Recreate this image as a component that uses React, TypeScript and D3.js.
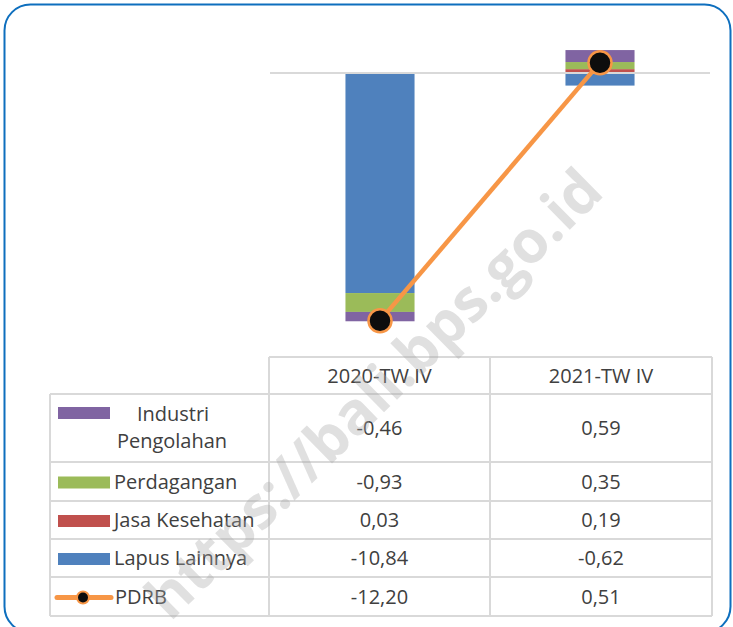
import React from "react";
import * as d3 from "d3";

const categories = ["2020-TW IV", "2021-TW IV"];
const seriesNames = ["Industri Pengolahan", "Perdagangan", "Jasa Kesehatan", "Lapus Lainnya"];
const industri = [-0.46, 0.59];
const perdagangan = [-0.93, 0.35];
const jasaKesehatan = [0.03, 0.19];
const lapusLainnya = [-10.84, -0.62];
const pdrb = [-12.2, 0.51];
const seriesColors = ["#8064A2", "#9BBB59", "#C0504D", "#4F81BD"];
const lineColor = "#F79646";

const W = 733;
const H = 627;
const FONT = "'Open Sans', 'Noto Sans', sans-serif";
const TXT = "#404040";
const GRID = "#d9d9d9";

export default function App() {
  const valuesBySeries = [industri, perdagangan, jasaKesehatan, lapusLainnya];
  const rows = categories.map((c, i) => {
    const r: any = { cat: c };
    seriesNames.forEach((s, j) => (r[s] = valuesBySeries[j][i]));
    return r;
  });
  // stacking order outward from zero
  const stackKeys = ["Lapus Lainnya", "Jasa Kesehatan", "Perdagangan", "Industri Pengolahan"];
  const stacked = d3.stack<any>().keys(stackKeys).offset(d3.stackOffsetDiverging)(rows);

  const x = d3.scaleBand<string>().domain(categories).range([270, 710]).padding(0);
  const barW = x.bandwidth() * 0.314;
  const y = d3.scaleLinear().domain([2, -14]).range([32.4, 357.2]);
  const cx = (c: string) => (x(c) as number) + x.bandwidth() / 2;

  const line = d3
    .line<number>()
    .x((_, i) => cx(categories[i]))
    .y((d) => y(d));

  const locale = d3.formatLocale({ decimal: ",", thousands: ".", grouping: [3], currency: ["", ""], minus: "-" });
  const fmt = locale.format(".2f");

  // table geometry
  const colX = [50, 269, 490, 712];
  const headTop = 357;
  const rowY = [394, 462, 501, 539, 577, 616];
  const tableSeries = [
    { name: seriesNames[0], vals: industri, color: seriesColors[0] },
    { name: seriesNames[1], vals: perdagangan, color: seriesColors[1] },
    { name: seriesNames[2], vals: jasaKesehatan, color: seriesColors[2] },
    { name: seriesNames[3], vals: lapusLainnya, color: seriesColors[3] },
    { name: "PDRB", vals: pdrb, color: lineColor },
  ];

  return (
    <svg
      width={W}
      height={H}
      style={{ position: "absolute", left: 0, top: 0, background: "#fff" }}
      fontFamily={FONT}
    >
      <rect x={4.5} y={4.5} width={726} height={628} rx={26} ry={26} fill="#fff" stroke="#0E6FBE" strokeWidth={2} />

      {/* bars */}
      {stacked.map((s, si) => {
        const color = seriesColors[seriesNames.indexOf(s.key)];
        return s.map((d, i) => {
          const y0 = y(d[0]);
          const y1 = y(d[1]);
          return (
            <rect
              key={s.key + i}
              x={cx(categories[i]) - barW / 2}
              y={Math.min(y0, y1)}
              width={barW}
              height={Math.abs(y1 - y0)}
              fill={color}
            />
          );
        });
      })}

      {/* zero line */}
      <line x1={270} x2={710} y1={y(0)} y2={y(0)} stroke={GRID} strokeWidth={2} />

      {/* PDRB line */}
      <path d={line(pdrb) || ""} fill="none" stroke={lineColor} strokeWidth={4.5} />
      {pdrb.map((v, i) => (
        <circle key={i} cx={cx(categories[i])} cy={y(v)} r={11.5} fill="#0d0d0d" stroke={lineColor} strokeWidth={2.5} />
      ))}

      {/* table lines */}
      <g stroke={GRID} strokeWidth={2}>
        <line x1={colX[1]} x2={colX[3]} y1={headTop} y2={headTop} />
        {rowY.map((ry, i) => (
          <line key={i} x1={colX[0]} x2={colX[3]} y1={ry} y2={ry} />
        ))}
        <line x1={colX[0]} x2={colX[0]} y1={rowY[0]} y2={rowY[5]} />
        {colX.slice(1).map((cxx, i) => (
          <line key={i} x1={cxx} x2={cxx} y1={headTop} y2={rowY[5]} />
        ))}
      </g>

      {/* header */}
      {categories.map((c, i) => (
        <text key={c} x={(colX[i + 1] + colX[i + 2]) / 2} y={(headTop + rowY[0]) / 2 + 7} textAnchor="middle" fontSize={20} fill={TXT}>
          {c}
        </text>
      ))}

      {/* rows */}
      {tableSeries.map((s, ri) => {
        const top = rowY[ri];
        const bot = rowY[ri + 1];
        const mid = (top + bot) / 2;
        return (
          <g key={s.name}>
            {ri === 0 ? (
              <>
                <rect x={58} y={407} width={52} height={12} fill={s.color} />
                <text x={173} y={421} textAnchor="middle" fontSize={20} fill={TXT}>Industri</text>
                <text x={172} y={448} textAnchor="middle" fontSize={20} fill={TXT}>Pengolahan</text>
              </>
            ) : s.name === "PDRB" ? (
              <>
                <line x1={57} x2={111} y1={mid + 1} y2={mid + 1} stroke={lineColor} strokeWidth={5} strokeLinecap="round" />
                <circle cx={83} cy={mid + 1} r={6} fill="#0d0d0d" stroke={lineColor} strokeWidth={2} />
                <text x={115} y={mid + 7} fontSize={20} fill={TXT}>{s.name}</text>
              </>
            ) : (
              <>
                <rect x={58} y={mid - 5} width={52} height={12} fill={s.color} />
                <text x={114} y={mid + 7} fontSize={20} fill={TXT}>{s.name}</text>
              </>
            )}
            {s.vals.map((v, ci) => (
              <text key={ci} x={(colX[ci + 1] + colX[ci + 2]) / 2} y={mid + 7} textAnchor="middle" fontSize={20} fill={TXT}>
                {fmt(v)}
              </text>
            ))}
          </g>
        );
      })}

      {/* watermark */}
      <text
        transform="translate(372,392) rotate(-44.5)"
        textAnchor="middle"
        dominantBaseline="central"
        fontSize={59}
        fontWeight={700}
        fill="#a6a6a6"
        fillOpacity={0.35}
      >
        https://bali.bps.go.id
      </text>
    </svg>
  );
}
